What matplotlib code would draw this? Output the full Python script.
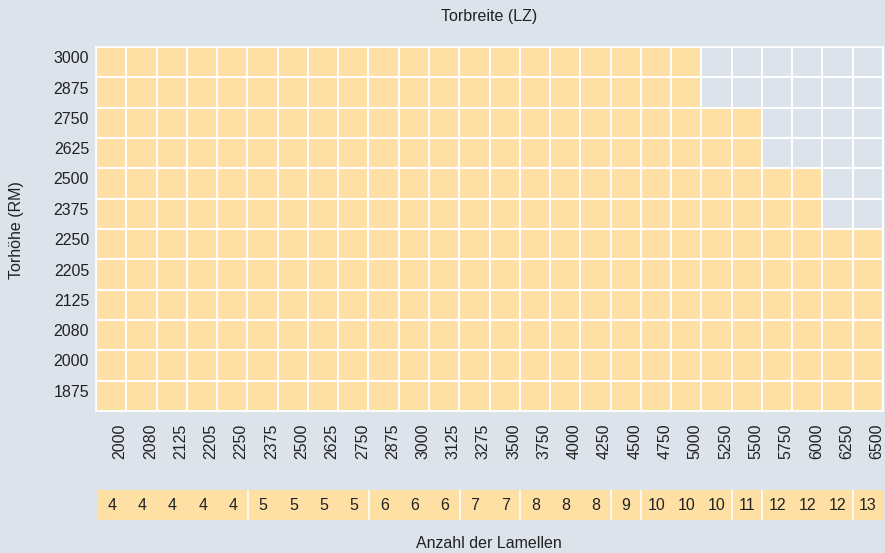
import numpy as np
import matplotlib
import matplotlib.pyplot as plt
from matplotlib.colors import ListedColormap
from matplotlib.transforms import ScaledTranslation

matplotlib.use("Agg")

plt.rcParams['font.family'] = ['Liberation Sans', 'DejaVu Sans']

# Torbreite (LZ) columns
widths = [2000, 2080, 2125, 2205, 2250, 2375, 2500, 2625, 2750, 2875, 3000, 3125, 3275,
          3500, 3750, 4000, 4250, 4500, 4750, 5000, 5250, 5500, 5750, 6000, 6250, 6500]
# Torhöhe (RM) rows, bottom to top
heights = [1875, 2000, 2080, 2125, 2205, 2250, 2375, 2500, 2625, 2750, 2875, 3000]
# highest available Torhöhe per Torbreite
max_height = [3000] * 20 + [2750, 2750, 2500, 2500, 2250, 2250]
# Anzahl der Lamellen per Torbreite
lamellen = [4, 4, 4, 4, 4, 5, 5, 5, 5, 6, 6, 6, 7, 7, 8, 8, 8, 9, 10, 10, 10, 11, 12, 12, 12, 13]

BG = '#dde3ea'
ORANGE = '#fee0a5'
GREY = '#dce3eb'
TXT = '#222222'
FS = 11.5
LW = 1.2

W, H = 885, 553
fig = plt.figure(figsize=(W / 100, H / 100), dpi=100)
fig.patch.set_facecolor(BG)

# main grid
ax = fig.add_axes([96 / W, (H - 411) / H, (883 - 96) / W, (411 - 47) / H])
avail = np.array([[1 if h <= m else 0 for m in max_height] for h in heights])
cmap = ListedColormap([GREY, ORANGE])
ax.pcolormesh(np.arange(len(widths) + 1), np.arange(len(heights) + 1), avail,
              cmap=cmap, vmin=0, vmax=1, edgecolors='white', linewidth=LW)
ax.set_xlim(0, len(widths))
ax.set_ylim(0, len(heights))
for s in ax.spines.values():
    s.set_color('white')
    s.set_linewidth(LW)
ax.set_xticks(np.arange(len(widths)) + 0.5)
ax.set_xticklabels([str(w) for w in widths], rotation=90, fontsize=FS, color=TXT)
ax.set_yticks(np.arange(len(heights)) + 0.5)
ax.set_yticklabels([str(h) for h in heights], fontsize=FS, color=TXT)
ax.tick_params(axis='x', length=0, pad=9)
ax.tick_params(axis='y', length=0, pad=5)
ax.set_facecolor(GREY)

# labels in the original sit a bit off the cell centres
for lab in ax.get_xticklabels():
    lab.set_transform(lab.get_transform() + ScaledTranslation(0.09, 0, fig.dpi_scale_trans))
for lab in ax.get_yticklabels():
    lab.set_transform(lab.get_transform() + ScaledTranslation(0, 0.05, fig.dpi_scale_trans))

fig.text(489 / W, 1 - 17 / H, 'Torbreite (LZ)', ha='center', va='center', fontsize=FS, color=TXT)
fig.text(17 / W, 1 - 230 / H, 'Torhöhe (RM)', ha='center', va='center', rotation=90,
         fontsize=FS, color=TXT)

# Lamellen strip
ax2 = fig.add_axes([97 / W, (H - 520) / H, (883 - 97) / W, 30 / H])
x = np.arange(len(lamellen))
ax2.bar(x + 0.5, [1] * len(lamellen), width=1.0, color=ORANGE, linewidth=0)
for i, n in enumerate(lamellen):
    ax2.text(i + 0.5, 0.5, str(n), ha='center', va='center', fontsize=FS, color=TXT)
    if i > 0 and lamellen[i - 1] != n:
        ax2.axvline(i, color='white', linewidth=LW)
ax2.set_xlim(0, len(lamellen))
ax2.set_ylim(0, 1)
ax2.axis('off')

fig.text(489 / W, 1 - 544 / H, 'Anzahl der Lamellen', ha='center', va='center',
         fontsize=FS, color=TXT)

fig.savefig('out.png', dpi=100, facecolor=BG)
